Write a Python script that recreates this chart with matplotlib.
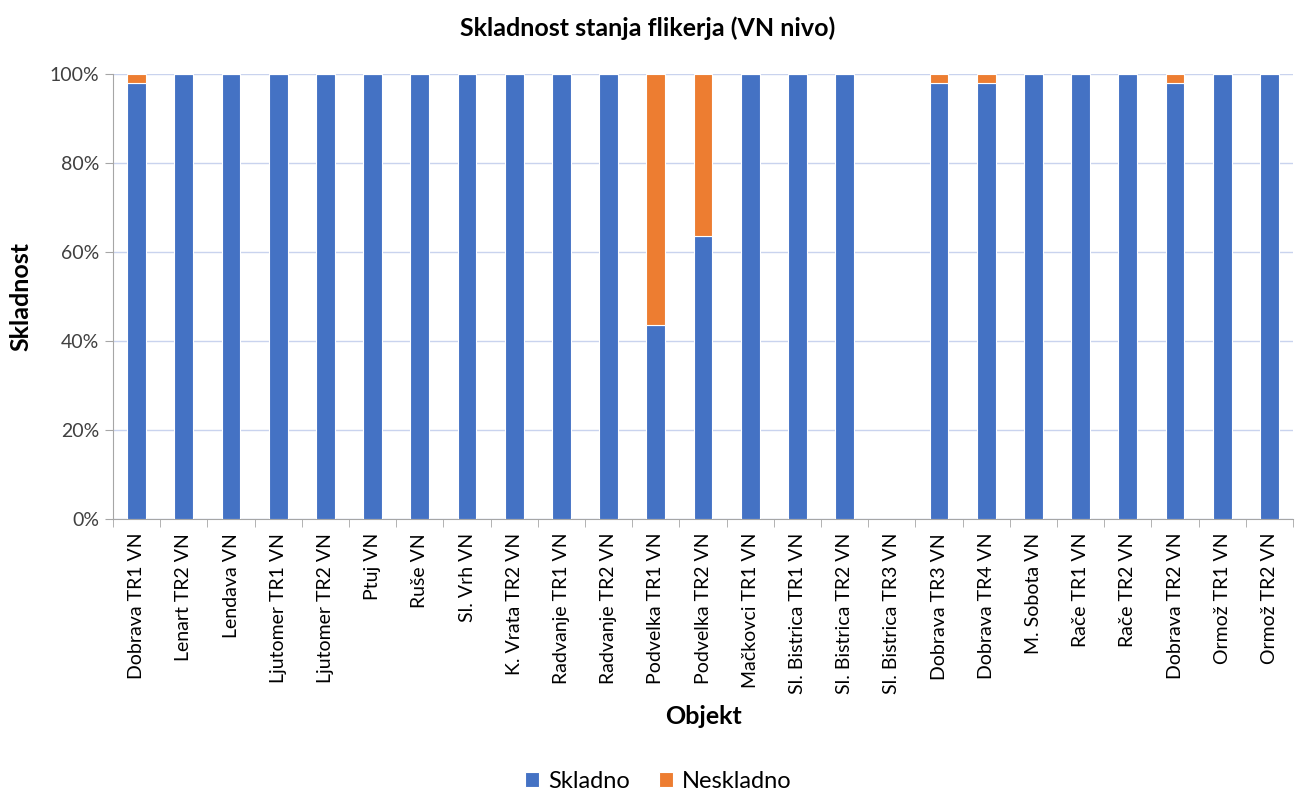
import matplotlib.pyplot as plt
import numpy as np

plt.rcParams['font.family'] = ['Lato', 'DejaVu Sans']

objekti = ['Dobrava TR1 VN', 'Lenart TR2 VN', 'Lendava VN', 'Ljutomer TR1 VN',
           'Ljutomer TR2 VN', 'Ptuj VN', 'Ruše VN', 'Sl. Vrh VN', 'K. Vrata TR2 VN',
           'Radvanje TR1 VN', 'Radvanje TR2 VN', 'Podvelka TR1 VN', 'Podvelka TR2 VN',
           'Mačkovci TR1 VN', 'Sl. Bistrica TR1 VN', 'Sl. Bistrica TR2 VN',
           'Sl. Bistrica TR3 VN', 'Dobrava TR3 VN', 'Dobrava TR4 VN', 'M. Sobota VN',
           'Rače TR1 VN', 'Rače TR2 VN', 'Dobrava TR2 VN', 'Ormož TR1 VN', 'Ormož TR2 VN']
skladno = [97.9, 100, 100, 100, 100, 100, 100, 100, 100, 100, 100, 43.6, 63.6,
           100, 100, 100, 0, 97.9, 97.9, 100, 100, 100, 97.9, 100, 100]
neskladno = [2.1, 0, 0, 0, 0, 0, 0, 0, 0, 0, 0, 56.4, 36.4,
             0, 0, 0, 0, 2.1, 2.1, 0, 0, 0, 2.1, 0, 0]

blue = '#4472C4'
orange = '#ED7D31'

fig = plt.figure(figsize=(12.96, 7.97), dpi=100)
ax = fig.add_axes([0.0872, 0.3488, 0.9105, 0.5584])

x = np.arange(len(objekti))
ax.bar(x, skladno, width=0.4, color=blue, edgecolor='white', linewidth=0.8,
       label='Skladno', zorder=3)
ax.bar(x, neskladno, width=0.4, bottom=skladno, color=orange, edgecolor='white',
       linewidth=0.8, label='Neskladno', zorder=3)

ax.set_xlim(-0.5, len(objekti) - 0.5)
ax.set_ylim(0, 100)
ax.set_yticks(np.arange(0, 101, 20))
ax.set_yticklabels([f'{v}%' for v in range(0, 101, 20)], fontsize=14, color='#404040')
ax.yaxis.grid(True, color='#C9D3EE', linewidth=1, zorder=0)

ax.set_xticks(x)
ax.set_xticklabels(objekti, rotation=90, fontsize=14, color='#000000')
ax.set_xticks(np.arange(-0.5, len(objekti), 1), minor=True)
ax.tick_params(axis='x', which='major', length=0, pad=10)
ax.tick_params(axis='x', which='minor', length=6, color='#A6A6A6')
ax.tick_params(axis='y', length=6, color='#A6A6A6', pad=4)

for s in ['top', 'right']:
    ax.spines[s].set_visible(False)
ax.spines['left'].set_color('#A6A6A6')
ax.spines['bottom'].set_color('#A6A6A6')

fig.text(0.5, 0.965, 'Skladnost stanja flikerja (VN nivo)', fontsize=18,
         fontweight='bold', ha='center', va='center')
ax.set_ylabel('Skladnost', fontsize=18, fontweight='bold', labelpad=12)
ax.set_xlabel('Objekt', fontsize=18, fontweight='bold', labelpad=8)

fig.legend(loc='lower center', bbox_to_anchor=(0.508, -0.02), ncol=2, frameon=False,
           fontsize=17, handlelength=0.6, handleheight=0.6, columnspacing=1.2,
           handletextpad=0.4)

fig.savefig('out.png', dpi=100)
